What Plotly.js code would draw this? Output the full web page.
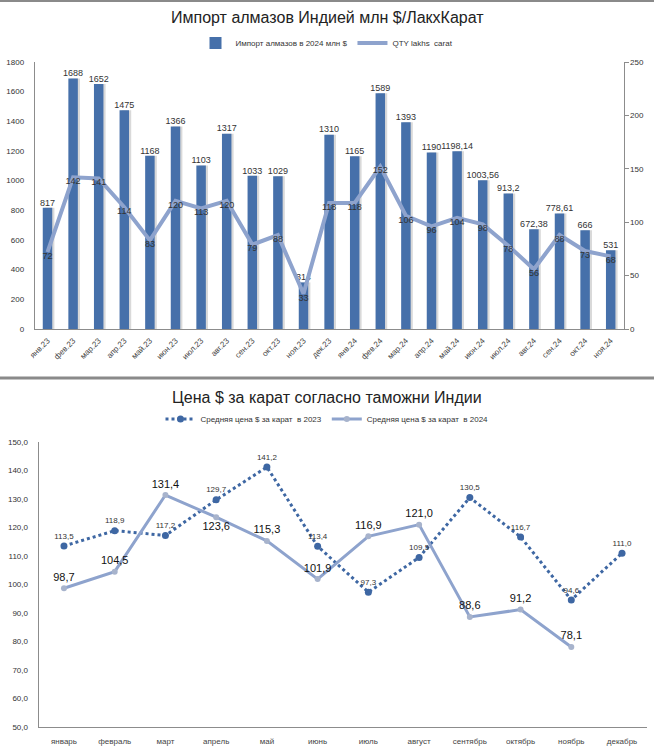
<!DOCTYPE html>
<html>
<head>
<meta charset="utf-8">
<script src="https://cdn.plot.ly/plotly-3.0.1.min.js"></script>
<style>html,body{margin:0;padding:0;background:#fff;}#chart{width:654px;height:753px;}</style>
</head>
<body>
<div id="chart"></div>
<script>
// ---- Top chart data ----
const months = ["янв.23","фев.23","мар.23","апр.23","май.23","июн.23","июл.23","авг.23","сен.23","окт.23","ноя.23","дек.23",
                "янв.24","фев.24","мар.24","апр.24","май.24","июн.24","июл.24","авг.24","сен.24","окт.24","ноя.24"];
const importUSD = [817,1688,1652,1475,1168,1366,1103,1317,1033,1029,314,1310,1165,1589,1393,1190,1198.14,1003.56,913.2,672.38,778.61,666,531];
const qtyLakhs = [72,142,141,114,83,120,113,120,79,88,33,118,118,152,106,96,104,98,78,56,88,73,68];

// ---- Bottom chart data ----
const monthNames = ["январь","февраль","март","апрель","май","июнь","июль","август","сентябрь","октябрь","ноябрь","декабрь"];
const price2023 = [113.5,118.9,117.2,129.7,141.2,113.4,97.3,109.5,130.5,116.7,94.6,111.0];
const price2024 = [98.7,104.5,131.4,123.6,115.3,101.9,116.9,121.0,88.6,91.2,78.1,null];

const fmt = v => (v===null? "" : String(v).replace('.', ','));
const fmt1 = v => (v===null? "" : v.toFixed(1).replace('.', ','));

const H = 753, W = 654;
const py = px => 1 - px / H;
const pxx = px => px / W;

const barColor = "#4670aa";
const lineColor = "#8ea3cd";
const dotColor = "#3e67a3";
const font = "Liberation Sans, Arial, sans-serif";

const traces = [
  { // bar shadow
    type: "bar", x: months, y: importUSD, xaxis: "x", yaxis: "y",
    marker: {color: "#d9d9d9"}, width: 0.37, offset: -0.1,
    showlegend: false, hoverinfo: "skip"
  },
  {
    type: "bar", x: months, y: importUSD, xaxis: "x", yaxis: "y",
    name: "Импорт алмазов в 2024 млн $",
    marker: {color: barColor}, width: 0.37, offset: -0.185,
    legend: "legend"
  },
  {
    type: "scatter", mode: "lines+text", x: months, y: qtyLakhs, xaxis: "x", yaxis: "y2",
    name: "QTY lakhs  carat",
    line: {color: lineColor, width: 4},
    text: qtyLakhs.map(String), textposition: "bottom center",
    textfont: {size: 9, color: "#333", family: font},
    cliponaxis: false,
    legend: "legend"
  },
  { // bar value labels, drawn above the line
    type: "scatter", mode: "text", x: months, y: importUSD, xaxis: "x", yaxis: "y",
    text: importUSD.map(fmt), textposition: "top center",
    textfont: {size: 9, color: "#333", family: font},
    cliponaxis: false, showlegend: false, hoverinfo: "skip"
  },
  {
    type: "scatter", mode: "lines+markers+text", x: monthNames, y: price2023, xaxis: "x3", yaxis: "y3",
    name: "Средняя цена $ за карат  в 2023",
    line: {color: dotColor, width: 3, dash: "dot"},
    marker: {color: dotColor, size: 7},
    text: price2023.map(fmt1), textposition: "top center",
    textfont: {size: 8, color: "#333", family: font},
    cliponaxis: false,
    legend: "legend2"
  },
  {
    type: "scatter", mode: "lines+markers+text", x: monthNames, y: price2024, xaxis: "x3", yaxis: "y3",
    name: "Средняя цена $ за карат  в 2024",
    line: {color: lineColor, width: 3},
    marker: {color: "#a7b3cc", size: 6},
    text: price2024.map(fmt1),
    textposition: price2024.map((v,i) => i === 3 ? "bottom center" : "top center"),
    textfont: {size: 11, color: "#111", family: font},
    cliponaxis: false,
    connectgaps: false,
    legend: "legend2"
  }
];

const axisBase = {
  showgrid: false, zeroline: false, showline: true, linecolor: "#8c8c8c", linewidth: 1,
  tickfont: {size: 8, color: "#333", family: font}, fixedrange: true
};

const layout = {
  width: W, height: H,
  margin: {l: 0, r: 0, t: 0, b: 0},
  paper_bgcolor: "#fff", plot_bgcolor: "rgba(0,0,0,0)",
  barmode: "overlay",
  separators: ", ",
  font: {family: font},
  xaxis: Object.assign({}, axisBase, {
    domain: [pxx(34.7), pxx(623.5)], anchor: "y",
    tickangle: -45, ticks: "outside", ticklen: 3, tickcolor: "rgba(0,0,0,0)", type: "category",
    range: [-0.5, 22.5], tickfont: {size: 8, color: "#444", family: font}
  }),
  yaxis: Object.assign({}, axisBase, {
    domain: [py(329), py(62)], anchor: "x",
    range: [0, 1800], dtick: 200, ticks: "outside", ticklen: 8, tickcolor: "rgba(0,0,0,0)"
  }),
  yaxis2: Object.assign({}, axisBase, {
    overlaying: "y", side: "right", anchor: "x",
    range: [0, 250], dtick: 50, ticks: "outside", ticklen: 4, tickcolor: "#8c8c8c"
  }),
  xaxis3: Object.assign({}, axisBase, {
    domain: [pxx(38.6), pxx(647.4)], anchor: "y3", type: "category",
    range: [-0.5, 11.5], ticks: "outside", ticklen: 6, tickcolor: "rgba(0,0,0,0)",
    tickfont: {size: 8, color: "#444", family: font}
  }),
  yaxis3: Object.assign({}, axisBase, {
    domain: [py(727), py(442)], anchor: "x3",
    range: [50, 150], dtick: 10, tickformat: ".1f",
    ticks: "outside", ticklen: 8, tickcolor: "rgba(0,0,0,0)"
  }),
  legend: {
    orientation: "h", x: 0.5, xanchor: "center", y: py(43), yanchor: "middle",
    font: {size: 8, color: "#333", family: font}, bgcolor: "rgba(0,0,0,0)",
    itemwidth: 30
  },
  legend2: {
    orientation: "h", x: 0.5, xanchor: "center", y: py(419), yanchor: "middle",
    font: {size: 8, color: "#333", family: font}, bgcolor: "rgba(0,0,0,0)",
    itemwidth: 30
  },
  annotations: [
    {text: "Импорт алмазов Индией млн $/ЛакхКарат", xref: "paper", yref: "paper",
     x: 0.5, y: py(18), xanchor: "center", yanchor: "middle", showarrow: false,
     font: {size: 16, color: "#222", family: "Liberation Sans Narrow, Arial Narrow, sans-serif"}},
    {text: "Цена $ за карат согласно таможни Индии", xref: "paper", yref: "paper",
     x: 0.5, y: py(397), xanchor: "center", yanchor: "middle", showarrow: false,
     font: {size: 16, color: "#222", family: "Liberation Sans Narrow, Arial Narrow, sans-serif"}}
  ],
  shapes: [
    {type: "line", xref: "paper", yref: "paper", x0: 0, x1: 1, y0: py(1), y1: py(1),
     line: {color: "#8a8a8a", width: 2}},
    {type: "line", xref: "paper", yref: "paper", x0: 0, x1: 1, y0: py(378), y1: py(378),
     line: {color: "#8a8a8a", width: 3}}
  ]
};

Plotly.newPlot("chart", traces, layout, {displayModeBar: false, staticPlot: true});
</script>
</body>
</html>
